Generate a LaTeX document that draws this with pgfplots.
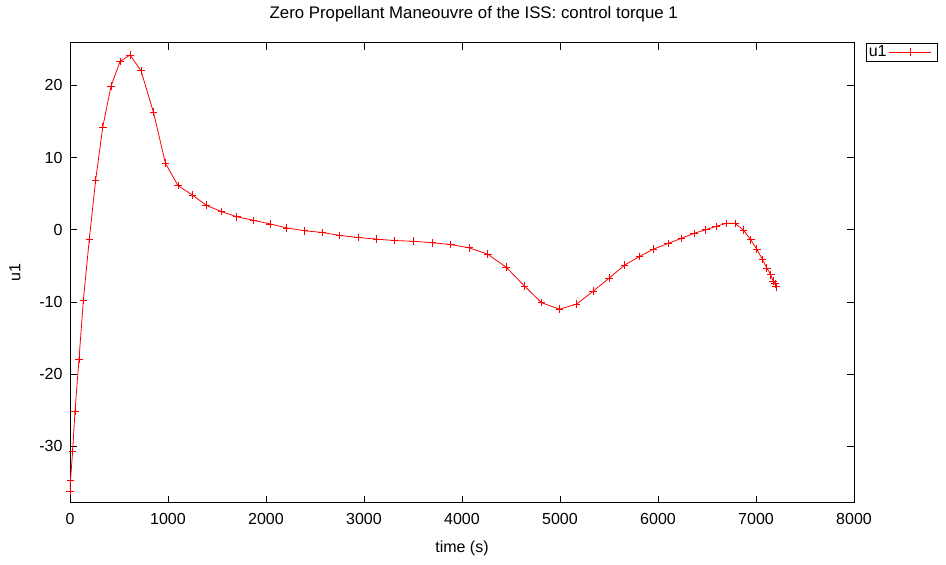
\documentclass[border=0pt]{standalone}
\usepackage{fontspec}
\setmainfont{Liberation Sans}
\usepackage{pgfplots}
\pgfplotsset{compat=1.18}
\begin{document}
\fontsize{16bp}{18bp}\selectfont
\begin{tikzpicture}[font=\fontsize{16bp}{18bp}\selectfont]
\begin{axis}[
  scale only axis,
  width=784bp, height=460bp,
  xmin=0, xmax=8000, ymin=-37.8, ymax=25.9,
  xtick={0,1000,...,8000},
  ytick={-30,-20,-10,0,10,20},
  /pgf/number format/assume math mode=true,
  /pgf/number format/1000 sep={},
  scaled x ticks=false,
  tick align=inside,
  major tick length=7bp,
  axis line style={line width=0.8bp},
  every tick/.style={black, line width=0.6bp},
  ticklabel style={font=\fontsize{16bp}{18bp}\selectfont},
  label style={font=\fontsize{16bp}{18bp}\selectfont},
  xticklabel style={yshift=-5bp},
  yticklabel style={xshift=-2bp},
  xlabel={time (s)},
  ylabel={u1},
  xlabel style={at={(axis description cs:0.5,-0.0985)}, anchor=center},
  ylabel style={at={(axis description cs:-0.0702,0.5)}, anchor=center},
  title={Zero Propellant Maneouvre of the ISS: control torque 1},
  title style={at={(axis description cs:0.515,1.05)}, anchor=center, font=\fontsize{16.8bp}{19bp}\selectfont},
  legend style={at={(rel axis cs:1.0153,1)}, anchor=north west, draw=black, line width=0.6bp, inner sep=0.5bp, font=\fontsize{16bp}{18bp}\selectfont, legend cell align=left},
  legend plot pos=right,
  legend image code/.code={
    \draw[#1, mark=none] (0.3cm,0cm) -- (1.78cm,0cm);
    \draw[#1, only marks] plot coordinates {(1.04cm,0cm)};
    \path (1.98cm,0cm);
  },
]
\addplot[color=red, line width=0.8bp, mark=+, mark size=3.8bp, mark options={line width=0.8bp}] coordinates {
(0,-36.2) (5,-34.7) (27,-30.7) (51,-25.1) (92,-17.9) (136,-9.8) (197,-1.3) (262,6.9) (334,14.2) (419,19.9) (511,23.3) (613,24.2) (725,22.0) (851,16.3) (974,9.2) (1103,6.1) (1250,4.8) (1389,3.4) (1546,2.5) (1703,1.8) (1873,1.3) (2043,0.8) (2213,0.25) (2391,-0.14) (2571,-0.37) (2751,-0.79) (2938,-1.07) (3126,-1.3) (3313,-1.5) (3507,-1.6) (3695,-1.8) (3885,-2.05) (4073,-2.5) (4263,-3.4) (4452,-5.2) (4637,-7.8) (4811,-10.1) (4995,-11.0) (5169,-10.3) (5339,-8.5) (5502,-6.7) (5659,-4.9) (5812,-3.7) (5952,-2.7) (6101,-1.9) (6238,-1.2) (6367,-0.5) (6487,0.0) (6592,0.46) (6694,0.88) (6786,0.88) (6872,-0.05) (6947,-1.4) (7008,-2.7) (7066,-4.1) (7110,-5.3) (7151,-6.25) (7175,-7.1) (7193,-7.5) (7203,-7.9)
};
\addlegendentry{u1}
\end{axis}
\pgfresetboundingbox
\path[use as bounding box] (-70bp,-62.3bp) rectangle (876bp,502.7bp);
\end{tikzpicture}
\end{document}
